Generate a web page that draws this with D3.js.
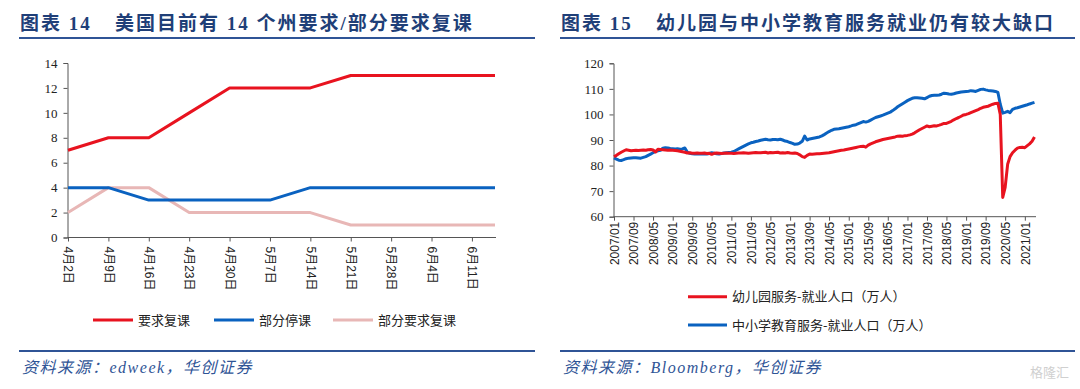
<!DOCTYPE html>
<meta charset="utf-8">
<style>
body { margin: 0; background: #fff; }
svg { display: block; }
.title { font-family: "Liberation Serif", "Noto Sans CJK SC", serif; font-weight: bold; font-size: 19px; fill: #1f3f78; letter-spacing: 2px; }
.source { font-family: "Liberation Serif", "Noto Sans CJK SC", serif; font-style: italic; font-size: 16px; fill: #2f5496; letter-spacing: 1.5px; }
.rule { stroke: #2f5496; stroke-width: 2; }
.yaxis text { font-family: "Liberation Serif", serif; font-size: 13px; fill: #222; }
.xaxis text { font-family: "Liberation Sans", "Noto Sans CJK SC", sans-serif; font-size: 12px; fill: #222; }
.axis path, .axis line { stroke: #555; }
.legend text { font-family: "Noto Sans CJK SC", sans-serif; font-size: 13px; fill: #222; }
</style>
<svg width="1080" height="389"></svg>
<script src="https://cdn.jsdelivr.net/npm/d3@7"></script>
<script>

// left chart: states requiring school reopening
let weekDates = ["2020-04-02", "2020-04-09", "2020-04-16", "2020-04-23", "2020-04-30", "2020-05-07",
	"2020-05-14", "2020-05-21", "2020-05-28", "2020-06-04", "2020-06-11", "2020-06-15"];
let requireReopen = [7, 8, 8, 10, 12, 12, 12, 13, 13, 13, 13, 13];
let partialClosed = [4, 4, 3, 3, 3, 3, 4, 4, 4, 4, 4, 4];
let partialReopen = [2, 4, 4, 2, 2, 2, 2, 1, 1, 1, 1, 1];
let leftNames = ["要求复课", "部分停课", "部分要求复课"];

// right chart: monthly employment, 2007/01 - 2021/05 (万人)
let firstMonth = "2007-01";
let kindergarten = [
	83.5, 84.0, 84.6, 85.2, 85.7, 86.2, 86.0, 85.8, 85.9, 86.0, 85.9, 86.0,
	86.1, 86.0, 86.2, 86.3, 86.1, 85.3, 86.4, 86.3, 86.2, 86.1, 86.0, 86.1,
	86.0, 85.9, 85.8, 85.6, 85.4, 85.2, 84.9, 85.0, 84.8, 84.8, 84.9, 84.8,
	84.8, 84.9, 84.7, 84.8, 84.4, 84.8, 84.9, 84.8, 84.7, 84.8, 84.9, 84.8,
	84.8, 84.7, 84.8, 84.9, 84.9, 85.0, 84.9, 84.8, 84.9, 85.0, 85.1, 85.0,
	85.0, 85.1, 85.2, 84.9, 85.1, 85.0, 85.1, 85.2, 84.9, 85.0, 84.9, 85.1,
	84.9, 84.8, 84.9, 84.7, 84.2, 83.5, 83.2, 84.0, 84.5, 84.4, 84.5, 84.6,
	84.6, 84.7, 84.8, 84.9, 85.0, 85.2, 85.4, 85.6, 85.8, 86.0, 86.1, 86.3,
	86.5, 86.7, 86.9, 87.1, 87.3, 87.5, 87.6, 87.2, 88.0, 88.5, 88.9, 89.3,
	89.6, 89.9, 90.2, 90.4, 90.6, 90.8, 91.0, 91.2, 91.5, 91.6, 91.5, 91.7,
	91.8, 92.0, 92.3, 92.8, 93.4, 94.0, 94.5, 95.0, 95.5, 95.2, 95.4, 95.6,
	95.5, 95.8, 96.1, 96.5, 96.5, 96.9, 97.3, 97.9, 98.4, 98.8, 99.3, 99.8,
	100.0, 100.3, 100.7, 101.1, 101.5, 101.9, 102.4, 102.8, 103.0, 103.2, 103.6, 104.0,
	104.3, 104.4, 100.0, 67.5, 71.5, 80.5, 83.5, 85.0, 86.0, 86.8, 87.1, 87.2,
	87.0, 87.8, 88.5, 89.5, 91.2
];
let primarySecondary = [
	83.0, 82.5, 82.1, 82.0, 82.3, 82.7, 82.9, 83.0, 83.1, 83.1, 83.0, 82.9,
	83.2, 83.5, 84.0, 84.5, 85.0, 85.5, 85.8, 86.0, 86.8, 87.0, 86.9, 86.7,
	86.6, 86.5, 86.6, 86.4, 86.5, 86.9, 85.3, 84.8, 84.6, 84.5, 84.6, 84.5,
	84.5, 84.6, 84.5, 84.7, 85.0, 84.8, 84.6, 84.5, 84.7, 84.9, 85.0, 85.1,
	85.2, 85.5, 86.0, 86.5, 87.0, 87.5, 88.0, 88.5, 88.9, 89.1, 89.4, 89.6,
	89.9, 90.1, 90.3, 90.1, 90.0, 90.2, 90.2, 90.1, 90.3, 90.0, 89.6, 89.4,
	89.0, 88.7, 88.3, 88.4, 88.8, 89.5, 91.5, 90.0, 90.4, 90.6, 90.8, 91.0,
	91.2, 91.6, 92.1, 92.7, 93.3, 93.8, 94.2, 94.3, 94.4, 94.6, 94.8, 95.0,
	95.2, 95.5, 95.8, 96.0, 96.4, 96.8, 97.2, 97.0, 97.3, 97.8, 98.3, 98.8,
	99.1, 99.4, 99.7, 100.1, 100.5, 100.9, 101.5, 102.2, 103.0, 103.6, 104.2, 104.8,
	105.4, 105.9, 106.3, 106.5, 106.5, 106.4, 106.3, 106.1, 106.6, 107.1, 107.4, 107.5,
	107.5, 107.6, 107.9, 108.3, 108.2, 108.0, 107.9, 108.1, 108.4, 108.6, 108.8, 108.9,
	109.0, 109.1, 109.3, 109.2, 109.0, 109.4, 109.8, 109.9, 109.6, 109.4, 109.3, 109.2,
	109.0, 108.6, 104.0, 100.5, 100.8, 101.2, 100.7, 102.0, 102.4, 102.6, 102.9, 103.2,
	103.5, 103.8, 104.1, 104.4, 104.7
];
let rightNames = ["幼儿园服务-就业人口（万人）", "中小学教育服务-就业人口（万人）"];

let red = "#e8131f", blue = "#0a62c0", pink = "#e8b7b6";

let svg = d3.select("svg");

// titles, rules, sources
function frame(x0, x1, num, title, source) {
	let t = svg.append("text").attr("class", "title").attr("y", 30);
	t.append("tspan").attr("x", x0 + 1).text("图表 " + num);
	t.append("tspan").attr("x", x0 + 96).text(title);
	svg.append("line").attr("class", "rule").attr("x1", x0).attr("x2", x1).attr("y1", 38).attr("y2", 38);
	svg.append("line").attr("class", "rule").attr("x1", x0).attr("x2", x1).attr("y1", 351).attr("y2", 351);
	svg.append("text").attr("class", "source").attr("x", x0 + 3).attr("y", 373).text(source);
}
frame(19, 535, "14", "美国目前有 14 个州要求/部分要求复课", "资料来源：edweek，华创证券");
frame(560, 1075, "15", "幼儿园与中小学教育服务就业仍有较大缺口", "资料来源：Bloomberg，华创证券");

// ---- left chart
let parse = d3.timeParse("%Y-%m-%d");
let dates = weekDates.map(parse);
let xL = d3.scaleTime().domain([dates[0], dates[dates.length - 1]]).range([68, 495]);
let yL = d3.scaleLinear().domain([0, 14]).range([237.5, 63]);

let gL = svg.append("g");
gL.append("g").attr("class", "axis yaxis")
	.attr("transform", "translate(67.5,0)")
	.call(d3.axisLeft(yL).tickValues(d3.range(0, 15, 2)).tickSize(4).tickPadding(6));
gL.append("g").attr("class", "axis xaxis")
	.attr("transform", "translate(0,237.5)")
	.call(d3.axisBottom(xL).tickValues(dates.slice(0, 11)).tickSize(4)
		.tickFormat(d => (d.getMonth() + 1) + "月" + d.getDate() + "日"))
	.call(g => g.select(".domain").attr("d", "M67.5,0H496"))
	.selectAll("text")
	.attr("transform", "rotate(90)")
	.attr("text-anchor", "start")
	.attr("x", 9).attr("y", 0).attr("dy", "0.35em");

let lineL = d3.line().x((d, i) => xL(dates[i])).y(d => yL(d));
[[partialReopen, pink], [partialClosed, blue], [requireReopen, red]].forEach(function(s) {
	gL.append("path").attr("d", lineL(s[0])).attr("fill", "none")
		.attr("stroke", s[1]).attr("stroke-width", 3).attr("stroke-linejoin", "round");
});

let legL = svg.append("g").attr("class", "legend");
[[93, red], [214, blue], [333, pink]].forEach(function(p, i) {
	legL.append("line").attr("x1", p[0]).attr("x2", p[0] + 40).attr("y1", 320).attr("y2", 320)
		.attr("stroke", p[1]).attr("stroke-width", 3);
	legL.append("text").attr("x", p[0] + 45).attr("y", 320).attr("dy", "0.35em").text(leftNames[i]);
});

// ---- right chart
let m0 = d3.timeParse("%Y-%m")(firstMonth);
let months = kindergarten.map((d, i) => d3.timeMonth.offset(m0, i));
let xR = d3.scaleTime().domain([m0, new Date(2021, 4, 20)]).range([614, 1036]);
let yR = d3.scaleLinear().domain([60, 120]).range([216.7, 63.3]);

let gR = svg.append("g");
gR.append("g").attr("class", "axis yaxis")
	.attr("transform", "translate(613.5,0)")
	.call(d3.axisLeft(yR).tickValues(d3.range(60, 121, 10)).tickSize(4).tickPadding(6));
let monthTicks = d3.range(0, 169, 8).map(i => d3.timeMonth.offset(m0, i));
gR.append("g").attr("class", "axis xaxis")
	.attr("transform", "translate(0,216.7)")
	.call(d3.axisBottom(xR).tickValues(monthTicks).tickSize(4).tickFormat(d3.timeFormat("%Y/%m")))
	.call(g => g.select(".domain").attr("d", "M613.5,0H1036"))
	.selectAll("text")
	.attr("transform", "rotate(-90)")
	.attr("text-anchor", "end")
	.attr("x", -5).attr("y", 0).attr("dy", "0.35em");

let lineR = d3.line().x((d, i) => xR(months[i])).y(d => yR(d));
[[primarySecondary, blue], [kindergarten, red]].forEach(function(s) {
	gR.append("path").attr("d", lineR(s[0])).attr("fill", "none")
		.attr("stroke", s[1]).attr("stroke-width", 3).attr("stroke-linejoin", "round");
});

let legR = svg.append("g").attr("class", "legend");
[[296.7, red], [325, blue]].forEach(function(p, i) {
	legR.append("line").attr("x1", 688).attr("x2", 727).attr("y1", p[0]).attr("y2", p[0])
		.attr("stroke", p[1]).attr("stroke-width", 3);
	legR.append("text").attr("x", 732).attr("y", p[0]).attr("dy", "0.35em").text(rightNames[i]);
});

// watermark
svg.append("text").attr("x", 1030).attr("y", 377)
	.style("font-family", "Noto Sans CJK SC").style("font-size", "13px").style("fill", "#d0d0d0")
	.text("格隆汇");

</script>
